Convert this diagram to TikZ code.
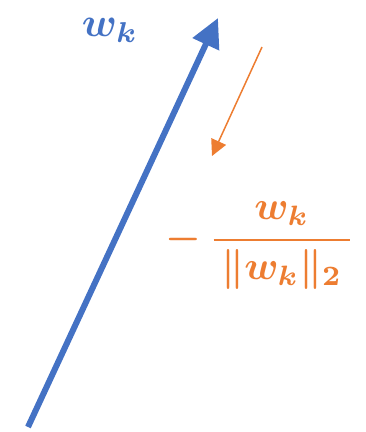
\documentclass[tikz,border=0pt]{standalone}
\usepackage{amsmath}
\usepackage{graphicx}
\usetikzlibrary{arrows.meta}
\definecolor{vblue}{HTML}{4472C4}
\definecolor{vorange}{HTML}{ED7D31}
\begin{document}
\begin{tikzpicture}[x=1pt,y=-1pt,
  bluearrow/.style={draw=vblue,line width=6pt,-{Triangle[length=29pt,width=28pt]}},
  orangearrow/.style={draw=vorange,line width=1.5pt,-{Triangle[length=16pt,width=16pt]}},
  lbl/.style={inner sep=0pt,anchor=center}]
\useasboundingbox (0,0) rectangle (365,432);
\coordinate (btail) at (28,427);
\coordinate (bhead) at (218,18);
\coordinate (otail) at (262,47);
\coordinate (ohead) at (212,156);
\draw[bluearrow] (btail) -- (bhead);
\draw[orangearrow] (otail) -- (ohead);
\node[lbl,text=vblue] (wk) at (110,30) {\scalebox{4.1}{\boldmath$w_k$}};
\node[lbl,text=vorange] (frac) at (260,246) {\scalebox{4.0}{\boldmath$-\,\dfrac{w_k}{\,\|w_k\|_2\,}$}};
\end{tikzpicture}
\end{document}
